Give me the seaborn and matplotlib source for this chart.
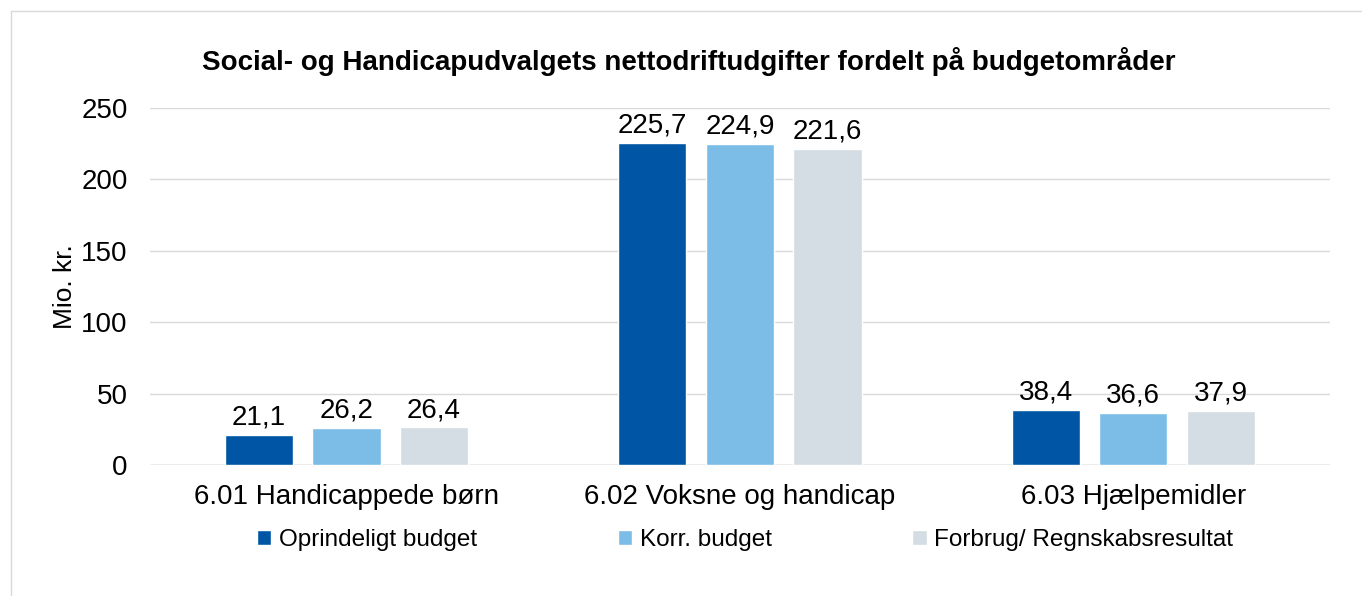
import pandas as pd
import matplotlib.pyplot as plt
import seaborn as sns
from matplotlib.lines import Line2D

categories = ["6.01 Handicappede børn", "6.02 Voksne og handicap", "6.03 Hjælpemidler"]
series = ["Oprindeligt budget", "Korr. budget", "Forbrug/ Regnskabsresultat"]
oprindeligt = [21.1, 225.7, 38.4]
korr = [26.2, 224.9, 36.6]
forbrug = [26.4, 221.6, 37.9]
colors = ["#0055A4", "#7CBDE8", "#D3DDE3"]

df = pd.DataFrame({
    "Område": categories * 3,
    "Serie": [series[0]] * 3 + [series[1]] * 3 + [series[2]] * 3,
    "Værdi": oprindeligt + korr + forbrug,
})

sns.set_style("white")
plt.rcParams["font.family"] = ["Liberation Sans", "DejaVu Sans"]
plt.rcParams["text.color"] = "black"

fig = plt.figure(figsize=(13.62, 5.96), dpi=100)
ax = fig.add_axes([0.110, 0.2198, 0.8665, 0.599])

sns.barplot(data=df, x="Område", y="Værdi", hue="Serie", palette=colors,
            width=0.668, gap=0.22, ax=ax, legend=True, saturation=1)

for cont in ax.containers:
    ax.bar_label(cont, labels=[f"{v:.1f}".replace(".", ",") for v in cont.datavalues],
                 fontsize=20, padding=3, color="black")

ax.set_ylim(0, 250)
ax.set_xlim(-0.5, 2.5)
ax.set_yticks(range(0, 251, 50))
ax.yaxis.grid(True, color="#D9D9D9", linewidth=1)
ax.set_axisbelow(True)
ax.axhline(0, color="#BFBFBF", linewidth=1, zorder=0.6)
for s in ax.spines.values():
    s.set_visible(False)
ax.tick_params(axis="both", labelsize=20, length=0, labelcolor="black")
ax.tick_params(axis="x", pad=14)
ax.tick_params(axis="y", pad=16)
ax.set_xlabel("")
ax.set_ylabel("Mio. kr.", fontsize=19, labelpad=3, color="black")

ax.legend_.remove()
handles, labels = ax.get_legend_handles_labels()
fig.legend(handles, labels, loc="center", bbox_to_anchor=(0.547, 0.094), ncol=3,
           frameon=False, fontsize=17.5, handlelength=0.6, handleheight=0.6,
           handletextpad=0.3, columnspacing=5.8)

fig.text(0.506, 0.897, "Social- og Handicapudvalgets nettodriftudgifter fordelt på budgetområder",
         ha="center", va="center", fontsize=20, fontweight="bold")

# outer chart border (left and top edges visible in the reference)
x0 = 11 / 1362
y1 = 1 - 11 / 596
fig.add_artist(Line2D([x0, x0], [0, y1], transform=fig.transFigure, color="#D9D9D9", linewidth=1))
fig.add_artist(Line2D([x0, 1], [y1, y1], transform=fig.transFigure, color="#D9D9D9", linewidth=1))

fig.savefig("out.png", dpi=100)
